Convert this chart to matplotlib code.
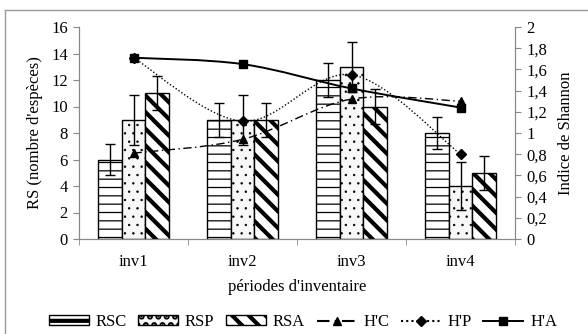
import matplotlib
matplotlib.use("Agg")
import matplotlib.pyplot as plt
import numpy as np
from matplotlib.path import Path
from matplotlib.patches import PathPatch, Patch
from matplotlib.lines import Line2D

plt.rcParams['font.family'] = ['Liberation Serif', 'DejaVu Serif']
plt.rcParams['font.size'] = 12

categories = ["inv1", "inv2", "inv3", "inv4"]
rsc = [6, 9, 12, 8]
rsp = [9, 9, 13, 4]
rsa = [11, 9, 10, 5]
rsc_err = [1.2, 1.3, 1.3, 1.2]
rsp_err = [1.9, 1.9, 1.9, 1.8]
rsa_err = [1.3, 1.3, 1.3, 1.3]
hc = [0.81, 0.94, 1.32, 1.30]
hp = [1.71, 1.11, 1.55, 0.80]
ha = [1.71, 1.65, 1.42, 1.24]


def smooth_path(x, y):
    # Catmull-Rom style bezier like excel smoothed lines
    x = np.asarray(x, float)
    y = np.asarray(y, float)
    pts = np.column_stack([x, y])
    verts = [pts[0]]
    codes = [Path.MOVETO]
    n = len(pts)
    for i in range(n - 1):
        p0 = pts[i - 1] if i > 0 else pts[i]
        p1 = pts[i]
        p2 = pts[i + 1]
        p3 = pts[i + 2] if i + 2 < n else pts[i + 1]
        c1 = p1 + (p2 - p0) / 6
        c2 = p2 - (p3 - p1) / 6
        verts += [c1, c2, p2]
        codes += [Path.CURVE4] * 3
    return Path(verts, codes)


fig = plt.figure(figsize=(5.88, 3.34), dpi=100)
ax = fig.add_axes([79 / 588, 1 - 239 / 334, (515 - 79) / 588, (239 - 27) / 334])
ax2 = ax.twinx()

x = np.arange(len(categories))
w = 0.22
ekw = dict(ecolor="black", capsize=3.5, elinewidth=1.0, capthick=1.0)

plt.rcParams['hatch.linewidth'] = 0.9
ax.bar(x - w, rsc, w, yerr=rsc_err, color="white", edgecolor="black",
       hatch="--", linewidth=1.0, error_kw=ekw)
plt.rcParams['hatch.linewidth'] = 0.5
ax.bar(x, rsp, w, yerr=rsp_err, color="#f7f7f7", edgecolor="black",
       hatch="..", linewidth=1.0, error_kw=ekw)
plt.rcParams['hatch.linewidth'] = 3.0
ax.bar(x + w, rsa, w, yerr=rsa_err, color="white", edgecolor="black",
       hatch="\\\\", linewidth=1.0, error_kw=ekw)

ax.set_xlim(-0.5, 3.5)
ax.set_ylim(0, 16)
ax.set_yticks(range(0, 17, 2))
ax.set_xticks(x)
ax.set_xticklabels(categories)
ax.set_xticks(np.arange(-0.5, 4, 1), minor=True)
ax.tick_params(axis="x", which="major", length=0, pad=11)
ax.tick_params(axis="x", which="minor", length=4, color="#888888")
ax.tick_params(axis="y", length=4, color="#888888", pad=4)

ax2.set_ylim(0, 2)
ax2.set_yticks(np.arange(0, 2.01, 0.2))
ax2.set_yticklabels(["0" if v == 0 else ("%g" % v).replace(".", ",")
                     for v in np.arange(0, 2.01, 0.2).round(1)])
ax2.tick_params(axis="y", length=4, color="#888888", pad=4)

for a in (ax, ax2):
    a.spines["top"].set_visible(False)
    for s in ("left", "right", "bottom"):
        a.spines[s].set_color("#888888")

# smoothed lines on right axis
hc_style = (0, (6, 2.5, 1, 2.5))
hp_style = (0, (1, 1.5))
ax2.add_patch(PathPatch(smooth_path(x, hc), fill=False, edgecolor="black",
                        linewidth=1.0, linestyle=hc_style))
ax2.add_patch(PathPatch(smooth_path(x, hp), fill=False, edgecolor="black",
                        linewidth=1.0, linestyle=hp_style))
ax2.add_patch(PathPatch(smooth_path(x, ha), fill=False, edgecolor="black",
                        linewidth=1.4))
ax2.plot(x, hc, linestyle="none", marker="^", color="black", markersize=6)
ax2.plot(x, hp, linestyle="none", marker="D", color="black", markersize=5)
ax2.plot(x, ha, linestyle="none", marker="s", color="black", markersize=6)

ax.set_ylabel("RS (nombre d'espèces)", labelpad=6)
ax2.set_ylabel("Indice de Shannon", labelpad=8)
ax.set_xlabel("périodes d'inventaire", labelpad=6)

plt.rcParams['hatch.linewidth'] = 0.9
h1 = Patch(facecolor="white", edgecolor="black", hatch="--", label="RSC")
plt.rcParams['hatch.linewidth'] = 0.5
h2 = Patch(facecolor="#f7f7f7", edgecolor="black", hatch="..", label="RSP")
plt.rcParams['hatch.linewidth'] = 3.0
h3 = Patch(facecolor="white", edgecolor="black", hatch="\\\\", label="RSA")
handles = [
    h1, h2, h3,
    Line2D([], [], color="black", linestyle=hc_style, marker="^",
           markersize=6, label="H'C"),
    Line2D([], [], color="black", linestyle=hp_style, marker="D",
           markersize=5, label="H'P"),
    Line2D([], [], color="black", linewidth=1.4, marker="s", markersize=6,
           label="H'A"),
]
fig.legend(handles=handles, loc="center", bbox_to_anchor=(0.515, 1 - 322 / 334),
           ncol=6, frameon=False, handlelength=2.4, handleheight=0.55,
           columnspacing=0.7, handletextpad=0.4, borderpad=0)

# outer chart frame
fig.add_artist(Line2D([5 / 588, 5 / 588], [0, 1 - 10 / 334], color="#999999",
                      linewidth=1.0, transform=fig.transFigure))
fig.add_artist(Line2D([5 / 588, 1], [1 - 10 / 334, 1 - 10 / 334],
                      color="#999999", linewidth=1.0, transform=fig.transFigure))

fig.savefig("out.png", dpi=100)
